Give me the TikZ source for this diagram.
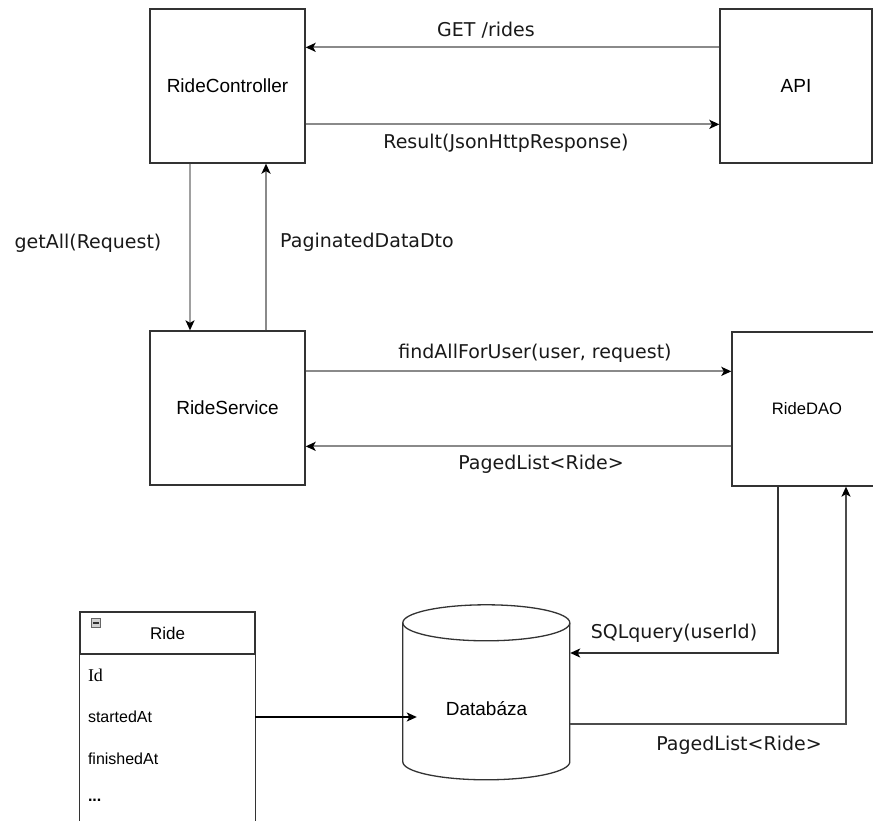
\documentclass[tikz,border=0pt]{standalone}
\usepackage{fontspec}
\setmainfont{Liberation Sans}
\newfontfamily\lblfont{DejaVu Sans}
\newfontfamily\seriffont{Liberation Serif}
\usetikzlibrary{arrows.meta,calc}

\definecolor{edge}{HTML}{333333}
\definecolor{wire}{HTML}{8A8A8A}
\definecolor{wirelight}{HTML}{A0A0A0}

\tikzset{
  box/.style={draw=edge, line width=1.3pt, fill=white, minimum width=155pt,
    minimum height=154pt, inner sep=0pt, font=\fontsize{19}{22}\selectfont},
  tip/.style={-{Stealth[length=10pt,width=9pt,inset=2.5pt,color=black]}},
  flow/.style={tip, draw=wire, line width=2pt},
  thinflow/.style={tip, draw=wirelight, line width=1.4pt},
  darkflow/.style={tip, draw=edge, line width=1.4pt},
  lbl/.style={font=\lblfont\fontsize{19}{22}\selectfont, text=black!90, inner sep=0pt},
  field/.style={minimum width=175pt, text width=159pt, inner xsep=8pt, inner ysep=0pt,
    align=left, font=\fontsize{16}{19}\selectfont},
}

\begin{document}
\begin{tikzpicture}[x=1pt, y=-1pt]
\useasboundingbox (0,0) rectangle (873,821);
\clip (0,0) rectangle (873,821);
\fill[white] (0,0) rectangle (873,821);

% components
\node[box] (ctrl) at (227.5,86) {RideController};
\node[box, minimum width=152pt] (api) at (796,86) {API};
\node[box] (svc) at (227.5,408) {RideService};
\node[box, minimum width=150pt, font=\fontsize{16.6}{20}\selectfont] (dao) at (807,409) {RideDAO};

% database cylinder
\node[minimum width=167pt, minimum height=175pt, inner sep=0pt] (db) at (486.5,692.5) {};
\draw[edge, line width=1.3pt, fill=white]
  (db.north west) ++(0,18) -- ++(0,139) arc[start angle=180, end angle=360, x radius=83.5pt, y radius=18pt]
  -- ++(0,-139) arc[start angle=0, end angle=180, x radius=83.5pt, y radius=18pt] -- cycle;
\draw[edge, line width=1.3pt]
  ($(db.north west)+(0,18)$) arc[start angle=180, end angle=360, x radius=83.5pt, y radius=18pt];
\node[font=\fontsize{19}{22}\selectfont] at ($(db.center)+(0,16)$) {Databáza};

% entity table
\node[draw=edge, line width=1.3pt, minimum width=175pt, minimum height=42pt, inner sep=0pt,
  font=\fontsize{17}{20}\selectfont] (thead) at (167.5,633) {Ride};
\draw[edge, line width=1.3pt] (thead.south west) -- ($(thead.south west)+(0,190)$);
\draw[edge, line width=1.3pt] (thead.south east) -- ($(thead.south east)+(0,190)$);
\node[draw=gray!80!black, fill=gray!35, line width=0.6pt, minimum size=9pt, inner sep=0pt] (tmin) at (96,623) {};
\draw[black!80, line width=1.2pt] ($(tmin.west)+(2,0)$) -- ($(tmin.east)+(-2,0)$);
\node[field, font=\seriffont\fontsize{18}{21}\selectfont] (r1) at (167.5,675) {Id};
\node[field] (r2) at (167.5,717) {startedAt};
\node[field] (r3) at (167.5,759) {finishedAt};
\node[field, font=\bfseries\fontsize{16}{19}\selectfont] (r4) at (167.5,800) {...};

% connectors
\draw[flow] ([yshift=-39pt]api.north west) -- ([yshift=-39pt]ctrl.north east);
\draw[flow] ([yshift=-116pt]ctrl.north east) -- ([yshift=-116pt]api.north west);
\draw[thinflow] ([xshift=-37.5pt]ctrl.south) -- ([xshift=-37.5pt]svc.north);
\draw[flow] ([xshift=38.5pt]svc.north) -- ([xshift=38.5pt]ctrl.south);
\draw[flow] ([yshift=-41pt]svc.north east) -- ($([yshift=-41pt]svc.north east -| dao.west)$);
\draw[flow] ($([yshift=-116pt]svc.north east -| dao.west)$) -- ([yshift=-116pt]svc.north east);
\draw[darkflow] ([xshift=-29pt]dao.south) |- ([yshift=39.5pt]db.east);
\draw[tip, draw=black!70, line width=1.6pt] ([yshift=-31.5pt]db.east) -| ([xshift=39pt]dao.south);
\draw[darkflow, draw=black] (r2.east) -- ($(r2.east -| db.west)+(14,0)$);

% message labels
\node[lbl] at (486,30) {GET /rides};
\node[lbl] at (506,143) {Result(JsonHttpResponse)};
\node[lbl] at (88,243) {getAll(Request)};
\node[lbl] at (367,242) {PaginatedDataDto};
\node[lbl] at (535,353) {findAllForUser(user, request)};
\node[lbl] at (541,464) {PagedList<Ride>};
\node[lbl] at (674,633) {SQLquery(userId)};
\node[lbl] at (739,745) {PagedList<Ride>};
\end{tikzpicture}
\end{document}
